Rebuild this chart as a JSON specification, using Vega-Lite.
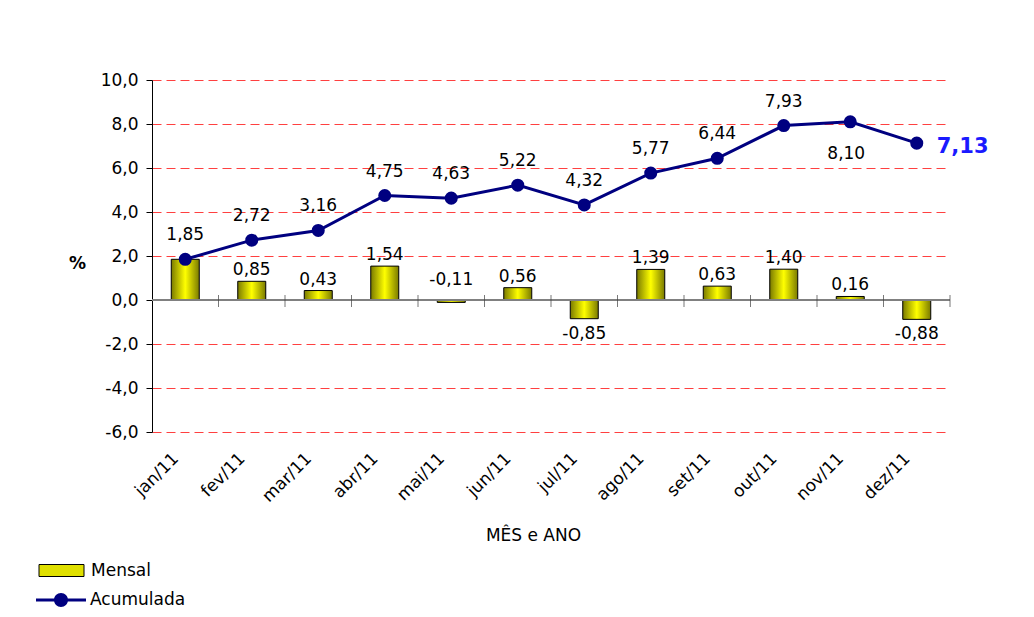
{
  "$schema": "https://vega.github.io/schema/vega-lite/v6.json",
  "width": 798,
  "height": 352,
  "autosize": "none",
  "padding": {"left": 152, "top": 80, "right": 84, "bottom": 185},
  "background": "white",
  "config": {
    "font": "DejaVu Sans",
    "view": {"stroke": null},
    "locale": {"number": {"decimal": ",", "thousands": ".", "grouping": [3], "currency": ["", ""], "minus": "-"}},
    "text": {"font": "DejaVu Sans", "fontSize": 17, "color": "black"},
    "axis": {"labelFont": "DejaVu Sans", "labelFontSize": 17, "labelColor": "black", "titleFont": "DejaVu Sans", "titleFontSize": 17, "titleColor": "black"},
    "axisY": {
      "tickCount": 9, "format": ".1f",
      "titleAngle": 0, "titleX": -75, "titleY": 183, "titleAlign": "center", "titleBaseline": "middle", "titleFontWeight": "bold",
      "labelPadding": 8, "domainColor": "black", "domainWidth": 1, "tickColor": "black", "tickSize": 6,
      "grid": true, "gridDash": [9, 5], "gridWidth": 1, "gridColor": "#ff4040"
    },
    "axisX": {
      "titleX": 381, "titleY": 103, "titleAlign": "center", "titleBaseline": "middle", "titleFontWeight": "normal",
      "labelAngle": -45, "labelAlign": "right", "labelBaseline": "top", "labelPadding": 18, "labelOffset": -15,
      "domain": false, "ticks": false, "grid": false
    }
  },
  "data": {
    "values": [
      {"mes": "jan/11", "mensal": 1.85, "acumulada": 1.85},
      {"mes": "fev/11", "mensal": 0.85, "acumulada": 2.72},
      {"mes": "mar/11", "mensal": 0.43, "acumulada": 3.16},
      {"mes": "abr/11", "mensal": 1.54, "acumulada": 4.75},
      {"mes": "mai/11", "mensal": -0.11, "acumulada": 4.63},
      {"mes": "jun/11", "mensal": 0.56, "acumulada": 5.22},
      {"mes": "jul/11", "mensal": -0.85, "acumulada": 4.32},
      {"mes": "ago/11", "mensal": 1.39, "acumulada": 5.77},
      {"mes": "set/11", "mensal": 0.63, "acumulada": 6.44},
      {"mes": "out/11", "mensal": 1.40, "acumulada": 7.93},
      {"mes": "nov/11", "mensal": 0.16, "acumulada": 8.10},
      {"mes": "dez/11", "mensal": -0.88, "acumulada": 7.13}
    ]
  },
  "layer": [
    {
      "mark": {
        "type": "bar",
        "size": 28,
        "stroke": "black",
        "strokeWidth": 1,
        "fill": {"gradient": "linear", "x1": 0, "y1": 0, "x2": 1, "y2": 0,
                 "stops": [{"offset": 0, "color": "#7a7a00"}, {"offset": 0.5, "color": "#ffff00"}, {"offset": 1, "color": "#7a7a00"}]}
      },
      "encoding": {
        "x": {"field": "mes", "type": "nominal", "sort": null, "title": "MÊS e ANO", "scale": {"paddingInner": 0, "paddingOuter": 0}},
        "y": {"field": "mensal", "type": "quantitative", "title": "%", "scale": {"domain": [-6, 10], "nice": false, "zero": true}},
        "color": {
          "datum": "Mensal",
          "scale": {"domain": ["Mensal"], "range": ["#e0e000"]},
          "legend": {
            "title": null, "orient": "none", "legendX": -101, "legendY": 480,
            "padding": 0, "symbolSize": 400, "labelOffset": 19,
            "symbolType": "M-2.25,-0.6H2.25V0.6H-2.25Z",
            "symbolFillColor": "#e0e000", "symbolStrokeColor": "#000000", "symbolStrokeWidth": 1,
            "labelFont": "DejaVu Sans", "labelFontSize": 17, "labelColor": "black"
          }
        }
      }
    },
    {
      "mark": {"type": "rule", "color": "#808080", "strokeWidth": 1.5},
      "encoding": {"y": {"datum": 0, "type": "quantitative", "title": "%"}}
    },
    {
      "mark": {"type": "tick", "orient": "vertical", "size": 12, "thickness": 1, "color": "#404040", "yOffset": 1},
      "encoding": {
        "x": {"field": "mes", "type": "nominal", "sort": null, "bandPosition": 1, "title": "MÊS e ANO"},
        "y": {"datum": 0, "type": "quantitative", "title": "%"}
      }
    },
    {
      "mark": {"type": "line", "strokeWidth": 3, "color": "#000080", "point": {"filled": true, "size": 170, "color": "#000080"}},
      "encoding": {
        "x": {"field": "mes", "type": "nominal", "sort": null, "title": "MÊS e ANO"},
        "y": {"field": "acumulada", "type": "quantitative", "title": "%"},
        "opacity": {
          "datum": "Acumulada",
          "scale": {"domain": ["Acumulada"], "range": [1]},
          "legend": {
            "title": null, "orient": "none", "legendX": -101, "legendY": 510,
            "padding": 0, "symbolSize": 400, "labelOffset": 19,
            "symbolType": "M-2.5,-0.15H2.5V0.15H-2.5Z M0.7,0A0.7,0.7,0,1,1,-0.7,0A0.7,0.7,0,1,1,0.7,0Z",
            "symbolFillColor": "#000080", "symbolStrokeColor": "#000080", "symbolStrokeWidth": 0,
            "labelFont": "DejaVu Sans", "labelFontSize": 17, "labelColor": "black"
          }
        }
      }
    },
    {
      "transform": [{"filter": "datum.mes !== 'nov/11' && datum.mes !== 'dez/11'"}],
      "mark": {"type": "text", "dy": -24, "baseline": "middle"},
      "encoding": {
        "x": {"field": "mes", "type": "nominal", "sort": null, "title": "MÊS e ANO"},
        "y": {"field": "acumulada", "type": "quantitative", "title": "%"},
        "text": {"field": "acumulada", "type": "quantitative", "format": ".2f"}
      }
    },
    {
      "transform": [{"filter": "datum.mes === 'nov/11'"}],
      "mark": {"type": "text", "dy": 32, "dx": -4, "baseline": "middle"},
      "encoding": {
        "x": {"field": "mes", "type": "nominal", "sort": null, "title": "MÊS e ANO"},
        "y": {"field": "acumulada", "type": "quantitative", "title": "%"},
        "text": {"field": "acumulada", "type": "quantitative", "format": ".2f"}
      }
    },
    {
      "transform": [{"filter": "datum.mes === 'dez/11'"}],
      "mark": {"type": "text", "dx": 20, "dy": 4, "align": "left", "baseline": "middle", "fontSize": 21, "fontWeight": "bold", "color": "#1a1aff"},
      "encoding": {
        "x": {"field": "mes", "type": "nominal", "sort": null, "title": "MÊS e ANO"},
        "y": {"field": "acumulada", "type": "quantitative", "title": "%"},
        "text": {"field": "acumulada", "type": "quantitative", "format": ".2f"}
      }
    },
    {
      "transform": [{"filter": "datum.mensal >= 0 && datum.mes !== 'jan/11'"}],
      "mark": {"type": "text", "dy": -6, "baseline": "alphabetic"},
      "encoding": {
        "x": {"field": "mes", "type": "nominal", "sort": null, "title": "MÊS e ANO"},
        "y": {"field": "mensal", "type": "quantitative", "title": "%"},
        "text": {"field": "mensal", "type": "quantitative", "format": ".2f"}
      }
    },
    {
      "transform": [{"filter": "datum.mensal < 0 && datum.mensal > -0.5"}],
      "mark": {"type": "text", "dy": -17, "baseline": "alphabetic"},
      "encoding": {
        "x": {"field": "mes", "type": "nominal", "sort": null, "title": "MÊS e ANO"},
        "y": {"field": "mensal", "type": "quantitative", "title": "%"},
        "text": {"field": "mensal", "type": "quantitative", "format": ".2f"}
      }
    },
    {
      "transform": [{"filter": "datum.mensal <= -0.5"}],
      "mark": {"type": "text", "dy": 7, "baseline": "top"},
      "encoding": {
        "x": {"field": "mes", "type": "nominal", "sort": null, "title": "MÊS e ANO"},
        "y": {"field": "mensal", "type": "quantitative", "title": "%"},
        "text": {"field": "mensal", "type": "quantitative", "format": ".2f"}
      }
    }
  ]
}
